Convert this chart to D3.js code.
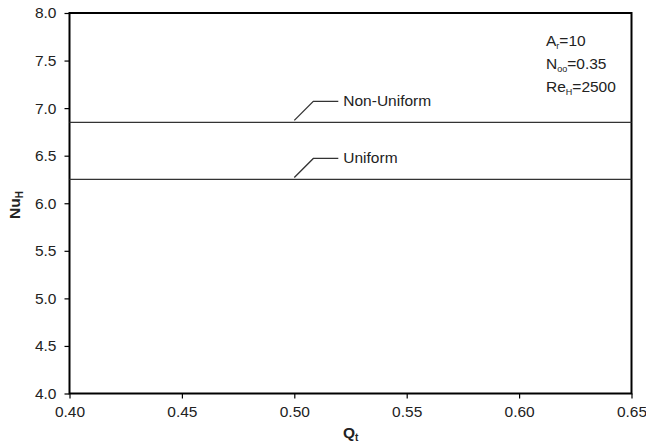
<!DOCTYPE html>
<html>
<head>
<meta charset="utf-8">
<script src="https://cdn.jsdelivr.net/npm/d3@7"></script>
<style>
  body { margin: 0; background: #fff; }
  svg { font-family: Arial, "Liberation Sans", sans-serif; }
</style>
</head>
<body>
<div id="chart"></div>
<script>
// data
var q_values = [0.40, 0.45, 0.50, 0.55, 0.60, 0.65];
var nu_non_uniform = [6.85, 6.85, 6.85, 6.85, 6.85, 6.85];
var nu_uniform = [6.25, 6.25, 6.25, 6.25, 6.25, 6.25];
var series_names = ["Non-Uniform", "Uniform"];
var x_ticks = [0.40, 0.45, 0.50, 0.55, 0.60, 0.65];
var y_ticks = [4.0, 4.5, 5.0, 5.5, 6.0, 6.5, 7.0, 7.5, 8.0];

var svg_width = 646, svg_height = 446;
var margin = { top: 13, right: 14.5, bottom: 52.5, left: 69.5 };
var font_size = 15.5;

var svg = d3.select("#chart").append("svg")
    .attr("width", svg_width)
    .attr("height", svg_height);

var x = d3.scaleLinear()
    .domain([0.40, 0.65])
    .range([margin.left, svg_width - margin.right]);
var y = d3.scaleLinear()
    .domain([4.0, 8.0])
    .range([svg_height - margin.bottom, margin.top]);

// x axis
var xAxis = svg.append("g")
    .attr("transform", "translate(0," + y(4.0) + ")")
    .call(d3.axisBottom(x).tickValues(x_ticks).tickFormat(d3.format(".2f")).tickSize(5).tickSizeOuter(0));
xAxis.select(".domain").remove();
xAxis.selectAll("line").attr("stroke", "#000").attr("stroke-width", 1.2);
xAxis.selectAll("text").attr("font-size", font_size).attr("fill", "#222").attr("dy", "1.0em")
    .attr("font-family", "Arial, 'Liberation Sans', sans-serif");

// y axis
var yAxis = svg.append("g")
    .attr("transform", "translate(" + x(0.40) + ",0)")
    .call(d3.axisLeft(y).tickValues(y_ticks).tickFormat(d3.format(".1f")).tickSize(5).tickSizeOuter(0));
yAxis.select(".domain").remove();
yAxis.selectAll("line").attr("stroke", "#000").attr("stroke-width", 1.2);
yAxis.selectAll("text").attr("font-size", font_size).attr("fill", "#222").attr("x", -13)
    .attr("font-family", "Arial, 'Liberation Sans', sans-serif");

// frame
svg.append("rect")
    .attr("x", x(0.40))
    .attr("y", y(8.0))
    .attr("width", x(0.65) - x(0.40))
    .attr("height", y(4.0) - y(8.0))
    .attr("fill", "none")
    .attr("stroke", "#000")
    .attr("stroke-width", 2);

// lines
var line = d3.line()
    .x(function(d) { return x(d[0]); })
    .y(function(d) { return y(d[1]); });

[nu_non_uniform, nu_uniform].forEach(function(vals, i) {
    var pts = q_values.map(function(q, j) { return [q, vals[j]]; });
    svg.append("path")
        .attr("d", line(pts))
        .attr("fill", "none")
        .attr("stroke", "#333")
        .attr("stroke-width", 1.3);

    // leader line and label
    var ax = x(0.50), ay = y(vals[2]) - 2;
    svg.append("path")
        .attr("d", "M" + ax + "," + ay + "L" + (ax + 19) + "," + (ay - 19) + "L" + (ax + 44) + "," + (ay - 19))
        .attr("fill", "none")
        .attr("stroke", "#333")
        .attr("stroke-width", 1.3);
    svg.append("text")
        .attr("x", ax + 49)
        .attr("y", ay - 20)
        .attr("dy", "0.35em")
        .attr("font-size", font_size)
        .attr("fill", "#222")
        .text(series_names[i]);
});

// parameter notes
var notes = [
    { main: "A", sub: "r", rest: "=10" },
    { main: "N", sub: "oo", rest: "=0.35" },
    { main: "Re", sub: "H", rest: "=2500" }
];
notes.forEach(function(n, i) {
    var t = svg.append("text")
        .attr("x", 546)
        .attr("y", 41 + i * 22.7)
        .attr("dy", "0.35em")
        .attr("font-size", font_size)
        .attr("fill", "#222");
    t.append("tspan").text(n.main);
    t.append("tspan").attr("font-size", 9).attr("dy", "3").text(n.sub);
    t.append("tspan").attr("dy", "-3").text(n.rest);
});

// axis titles
var xt = svg.append("text")
    .attr("x", 343)
    .attr("y", 438)
    .attr("font-size", font_size)
    .attr("font-weight", "bold")
    .attr("fill", "#222");
xt.append("tspan").text("Q");
xt.append("tspan").attr("font-size", 10).attr("dy", "3").text("t");

var yt = svg.append("text")
    .attr("transform", "translate(20,205) rotate(-90)")
    .attr("text-anchor", "middle")
    .attr("font-size", font_size)
    .attr("font-weight", "bold")
    .attr("fill", "#222");
yt.append("tspan").text("Nu");
yt.append("tspan").attr("font-size", 10).attr("dy", "3").text("H");
</script>
</body>
</html>
